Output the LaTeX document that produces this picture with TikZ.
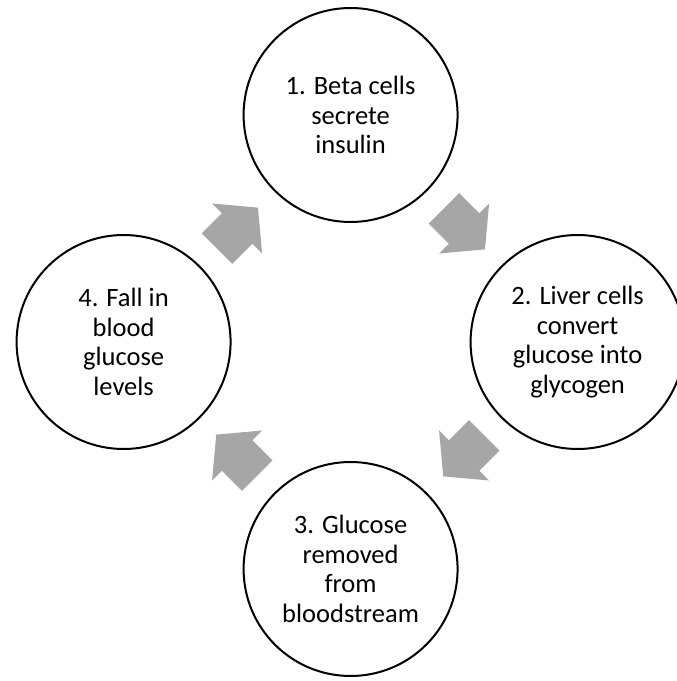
\documentclass[tikz,border=0pt]{standalone}
\usepackage{fontspec}
\setmainfont{Carlito}
\usepackage{tikz}
\usetikzlibrary{calc}
\definecolor{arrowgray}{RGB}{166,166,166}
\tikzset{
  every picture/.style={line join=round, line cap=round},
  stage/.style={circle, draw, line width=2pt, minimum size=214pt, inner sep=0pt,
    align=center, font=\fontsize{26.5}{29.5}\selectfont},
  pics/blockarrow/.style={code={
    \fill[arrowgray] (-28.5,-21.5)--(0,-21.5)--(0,-35.4)--(29.5,0)--(0,35.4)--(0,21.5)--(-28.5,21.5)--cycle;
  }},
}

\begin{document}
\begin{tikzpicture}[x=1pt,y=1pt]
\useasboundingbox (-350.6,-339) rectangle (326.4,342);
\node[stage](beta) at (0,227) {1. Beta cells\\secrete\\insulin};
\node[stage](liver) at (227,0) {2. Liver cells\\convert\\glucose into\\glycogen};
\node[stage](removed) at (0,-227) {3. Glucose\\removed\\from\\bloodstream};
\node[stage](fall) at (-227,0) {4. Fall in\\blood\\glucose\\levels};
% arrows between the stages
\pic[rotate=-45] at ($(beta)!0.5!(liver)$) {blockarrow};
\pic[rotate=-135] at ($(liver)!0.5!(removed)$) {blockarrow};
\pic[rotate=135] at ($(removed)!0.5!(fall)$) {blockarrow};
\pic[rotate=45] at ($(fall)!0.5!(beta)$) {blockarrow};
\end{tikzpicture}
\end{document}
